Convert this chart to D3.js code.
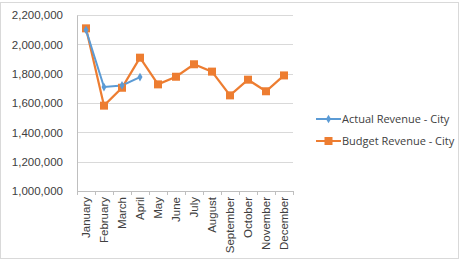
<!DOCTYPE html>
<html>
<head>
<meta charset="utf-8">
<script src="https://cdn.jsdelivr.net/npm/d3@7"></script>
<style>
  body { margin: 0; background: #fff; }
  svg { font-family: "Open Sans", sans-serif; }
</style>
</head>
<body>
<svg id="chart"></svg>
<script>
const months = ["January", "February", "March", "April", "May", "June", "July",
  "August", "September", "October", "November", "December"];
const actual = [2098000, 1709000, 1720000, 1777000];
const budget = [2109000, 1582000, 1704000, 1909000, 1727000, 1779000, 1864000,
  1814000, 1652000, 1759000, 1680000, 1788000];
const yTicks = [1000000, 1200000, 1400000, 1600000, 1800000, 2000000, 2200000];
const seriesNames = ["Actual Revenue - City", "Budget Revenue - City"];

const svgWidth = 459;
const svgHeight = 260;
const margin = { top: 15, right: 166, bottom: 69, left: 77 };
const width = svgWidth - margin.left - margin.right;
const height = svgHeight - margin.top - margin.bottom;
const blue = "#5B9BD5";
const orange = "#ED7D31";
const grid = "#d9d9d9";

const root = d3.select("#chart")
  .attr("width", svgWidth)
  .attr("height", svgHeight);

root.append("rect")
  .attr("x", 0.5).attr("y", 2.5)
  .attr("width", svgWidth - 1).attr("height", svgHeight - 4)
  .attr("fill", "none").attr("stroke", grid);

const svg = root.append("g")
  .attr("transform", `translate(${margin.left},${margin.top})`);

const xScale = d3.scaleBand()
  .domain(months)
  .range([0, width]);

const yScale = d3.scaleLinear()
  .domain([1000000, 2200000])
  .range([height, 0]);

const cx = d => xScale(d) + xScale.bandwidth() / 2;

// gridlines
svg.append("g")
  .selectAll("line")
  .data(yTicks)
  .enter()
  .append("line")
  .attr("x1", 0).attr("x2", width)
  .attr("y1", d => Math.round(yScale(d)) + 0.5)
  .attr("y2", d => Math.round(yScale(d)) + 0.5)
  .attr("stroke", grid);

// y axis
const yAxis = svg.append("g")
  .call(d3.axisLeft(yScale).tickValues(yTicks).tickSize(0).tickPadding(14).tickFormat(d3.format(",")));
yAxis.select(".domain").attr("stroke", "#bfbfbf");
yAxis.selectAll("text").attr("font-size", "11.5px").attr("fill", "#404040");

// x axis
const xAxis = svg.append("g")
  .attr("transform", `translate(0,${height})`)
  .call(d3.axisBottom(xScale).tickSize(0).tickPadding(6));
xAxis.select(".domain").attr("stroke", "#bfbfbf");
xAxis.selectAll("text")
  .attr("font-size", "11.5px")
  .attr("fill", "#404040")
  .attr("transform", "rotate(-90)")
  .attr("text-anchor", "end")
  .attr("x", -6)
  .attr("y", 0)
  .attr("dy", "0.35em");

xAxis.append("g")
  .selectAll("line")
  .data(months.concat([null]))
  .enter()
  .append("line")
  .attr("x1", (d, i) => Math.round(i * xScale.step()) + 0.5)
  .attr("x2", (d, i) => Math.round(i * xScale.step()) + 0.5)
  .attr("y1", 0).attr("y2", 4)
  .attr("stroke", "#bfbfbf");

const line = d3.line()
  .x((d, i) => cx(months[i]))
  .y(d => yScale(d));

svg.append("path")
  .datum(budget)
  .attr("d", line)
  .attr("fill", "none")
  .attr("stroke", orange)
  .attr("stroke-width", 2.25);

svg.append("path")
  .datum(actual)
  .attr("d", line)
  .attr("fill", "none")
  .attr("stroke", blue)
  .attr("stroke-width", 2);

svg.selectAll(".sq")
  .data(budget)
  .enter()
  .append("rect")
  .attr("x", (d, i) => cx(months[i]) - 4)
  .attr("y", d => yScale(d) - 4)
  .attr("width", 8).attr("height", 8)
  .attr("fill", orange);

svg.selectAll(".dm")
  .data(actual)
  .enter()
  .append("path")
  .attr("d", d3.symbol(d3.symbolDiamond, 22))
  .attr("transform", (d, i) => `translate(${cx(months[i])},${yScale(d)})`)
  .attr("fill", blue);

// legend
const legend = root.append("g").attr("transform", "translate(316,119)");
seriesNames.forEach((name, i) => {
  const g = legend.append("g").attr("transform", `translate(0,${i * 22})`);
  const color = i === 0 ? blue : orange;
  g.append("line").attr("x1", 0).attr("x2", 25).attr("y1", 0).attr("y2", 0)
    .attr("stroke", color).attr("stroke-width", 2);
  if (i === 0) {
    g.append("path").attr("d", d3.symbol(d3.symbolDiamond, 22))
      .attr("transform", "translate(12.5,0)").attr("fill", color);
  } else {
    g.append("rect").attr("x", 8.5).attr("y", -4).attr("width", 8).attr("height", 8).attr("fill", color);
  }
  g.append("text").attr("x", 26).attr("y", 0).attr("dy", "0.35em")
    .attr("font-size", "11px").attr("fill", "#404040").text(name);
});
</script>
</body>
</html>
